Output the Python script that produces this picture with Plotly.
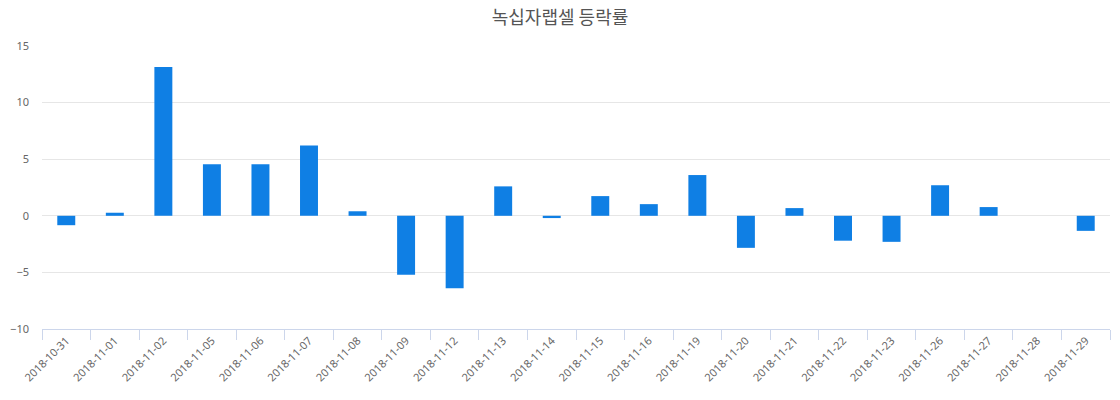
import plotly.graph_objects as go

dates = ["2018-10-31", "2018-11-01", "2018-11-02", "2018-11-05", "2018-11-06", "2018-11-07",
         "2018-11-08", "2018-11-09", "2018-11-12", "2018-11-13", "2018-11-14", "2018-11-15",
         "2018-11-16", "2018-11-19", "2018-11-20", "2018-11-21", "2018-11-22", "2018-11-23",
         "2018-11-26", "2018-11-27", "2018-11-28", "2018-11-29"]
rates = [-0.83, 0.27, 13.15, 4.55, 4.55, 6.2, 0.4, -5.2, -6.4, 2.6, -0.2, 1.74,
         1.03, 3.6, -2.83, 0.68, -2.2, -2.3, 2.7, 0.77, 0.0, -1.33]
title_text = "녹십자랩셀 등락률"
y_ticks = [-10, -5, 0, 5, 10, 15]

fig = go.Figure(go.Bar(x=dates, y=rates, marker=dict(color="#0f7fe4", line=dict(width=0)),
                       width=0.37, hoverinfo="x+y"))

fig.update_layout(
    width=1120, height=400,
    margin=dict(l=40, r=10, t=46, b=71),
    paper_bgcolor="white", plot_bgcolor="white",
    title=dict(text=title_text, x=0.5, xanchor="center", y=0.955, yanchor="middle",
               font=dict(family="Noto Sans CJK KR", size=18, color="#555555")),
    showlegend=False,
    font=dict(family="Noto Sans, Open Sans, sans-serif", size=11, color="#666666"),
)
fig.update_xaxes(type="category", tickangle=-45, showgrid=False,
                 showline=True, linecolor="#ccd6eb", linewidth=1,
                 ticks="outside", tickson="boundaries", ticklen=10, tickcolor="#ccd6eb",
                 tickfont=dict(size=11, color="#666666"), zeroline=False)
fig.update_yaxes(range=[-10, 15], tickvals=y_ticks, showgrid=True, gridcolor="#e6e6e6",
                 zeroline=True, zerolinecolor="#e6e6e6", zerolinewidth=1,
                 showline=False, ticks="", ticklabelstandoff=12,
                 tickfont=dict(size=11, color="#666666"))

fig.write_html("out.html")
